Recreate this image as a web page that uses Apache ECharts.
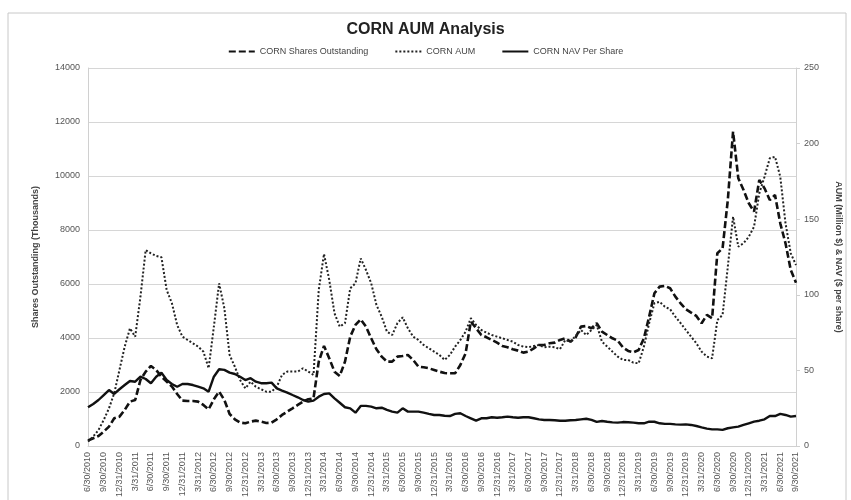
<!DOCTYPE html>
<html>
<head>
<meta charset="utf-8">
<script src="https://cdn.jsdelivr.net/npm/echarts@6/dist/echarts.min.js"></script>
<style>
  html, body { margin: 0; padding: 0; background: #fff; }
  #chart { width: 851px; height: 500px; }
</style>
</head>
<body>
<div id="chart"></div>
<script>
// month-end dates, Jun 2010 .. Sep 2021
const months = [
  '6/30/2010','7/31/2010','8/31/2010','9/30/2010','10/31/2010','11/30/2010','12/31/2010',
  '1/31/2011','2/28/2011','3/31/2011','4/30/2011','5/31/2011','6/30/2011','7/31/2011','8/31/2011','9/30/2011','10/31/2011','11/30/2011','12/31/2011',
  '1/31/2012','2/29/2012','3/31/2012','4/30/2012','5/31/2012','6/30/2012','7/31/2012','8/31/2012','9/30/2012','10/31/2012','11/30/2012','12/31/2012',
  '1/31/2013','2/28/2013','3/31/2013','4/30/2013','5/31/2013','6/30/2013','7/31/2013','8/31/2013','9/30/2013','10/31/2013','11/30/2013','12/31/2013',
  '1/31/2014','2/28/2014','3/31/2014','4/30/2014','5/31/2014','6/30/2014','7/31/2014','8/31/2014','9/30/2014','10/31/2014','11/30/2014','12/31/2014',
  '1/31/2015','2/28/2015','3/31/2015','4/30/2015','5/31/2015','6/30/2015','7/31/2015','8/31/2015','9/30/2015','10/31/2015','11/30/2015','12/31/2015',
  '1/31/2016','2/29/2016','3/31/2016','4/30/2016','5/31/2016','6/30/2016','7/31/2016','8/31/2016','9/30/2016','10/31/2016','11/30/2016','12/31/2016',
  '1/31/2017','2/28/2017','3/31/2017','4/30/2017','5/31/2017','6/30/2017','7/31/2017','8/31/2017','9/30/2017','10/31/2017','11/30/2017','12/31/2017',
  '1/31/2018','2/28/2018','3/31/2018','4/30/2018','5/31/2018','6/30/2018','7/31/2018','8/31/2018','9/30/2018','10/31/2018','11/30/2018','12/31/2018',
  '1/31/2019','2/28/2019','3/31/2019','4/30/2019','5/31/2019','6/30/2019','7/31/2019','8/31/2019','9/30/2019','10/31/2019','11/30/2019','12/31/2019',
  '1/31/2020','2/29/2020','3/31/2020','4/30/2020','5/31/2020','6/30/2020','7/31/2020','8/31/2020','9/30/2020','10/31/2020','11/30/2020','12/31/2020',
  '1/31/2021','2/28/2021','3/31/2021','4/30/2021','5/31/2021','6/30/2021','7/31/2021','8/31/2021','9/30/2021'
];

// shares outstanding (thousands), left axis
const sharesOutstanding = [
  200, 285, 370, 530, 716, 1025, 1086, 1333, 1642, 1704,
  2444, 2753, 2963, 2815, 2568, 2383, 2198, 1926, 1679, 1667,
  1667, 1642, 1519, 1358, 1728, 2012, 1704, 1185, 988, 864,
  840, 901, 938, 901, 850, 864, 988, 1148, 1272, 1395,
  1519, 1642, 1728, 1766, 3123, 3704, 3247, 2753, 2593, 3123,
  4049, 4481, 4692, 4420, 3988, 3580, 3309, 3123, 3123, 3309,
  3333, 3370, 3185, 2938, 2914, 2877, 2815, 2753, 2700, 2691,
  2691, 3000, 3432, 4605, 4358, 4111, 4025, 3926, 3827, 3704,
  3655, 3580, 3531, 3457, 3494, 3617, 3741, 3741, 3802, 3827,
  3926, 3988, 3864, 4025, 4420, 4444, 4358, 4543, 4235, 4111,
  3988, 3901, 3650, 3520, 3469, 3556, 3988, 4790, 5654, 5901,
  5926, 5840, 5531, 5284, 5062, 4938, 4815, 4543, 4852, 4728,
  7136, 7321, 9111, 11642, 9914, 9481, 8988, 8679, 9852, 9543,
  9111, 9296, 8247, 7506, 6519, 6049
];

// AUM (million $), right axis
const aum = [
  2.9, 6.2, 10.6, 17.2, 24.9, 34.8, 50.3, 65.7, 77.8, 72.3,
  98.7, 129.6, 127.4, 125.7, 124.8, 103.2, 94.4, 80, 72.3, 70.1,
  67.9, 65.7, 62.4, 51.4, 78.9, 107.6, 91.1, 60.2, 52.4, 43.6,
  38.1, 42.5, 39.2, 37.5, 35.9, 35.9, 39.2, 47, 49.2, 49.2,
  49.2, 51.4, 49.2, 47, 103.2, 127, 109.8, 87.8, 78.9, 81.2,
  104.3, 107.6, 124.1, 116.4, 107.6, 93.3, 85.5, 75.6, 73.4, 81.2,
  85.1, 77.8, 72.3, 70.1, 66.8, 64.6, 62.4, 60.2, 56.9, 60.2,
  65.7, 70.1, 75.6, 84.5, 80, 76.7, 74.9, 73.4, 72.3, 71.2,
  70.1, 69, 66.8, 65.7, 65.3, 66.1, 66.8, 65.3, 65.7, 65.3,
  64, 70.1, 69, 72.8, 76.7, 73.4, 76.7, 80, 69, 65.7,
  62.4, 59.1, 56.9, 56.9, 55.1, 54.7, 65.7, 81.2, 94.4, 95.4,
  92.1, 90.4, 85.5, 81.2, 76.7, 72.3, 67.9, 62.4, 59.1, 58,
  83.3, 86.6, 118.6, 151.7, 131.8, 134.1, 138.4, 145, 167.1, 178.1,
  190.3, 191.3, 178.1, 147.3, 127.4, 119.7
];

// NAV ($ per share), right axis
const navPerShare = [
  25.6, 27.8, 30.4, 33.7, 37, 34.4, 37.5, 40.3, 43, 42.5,
  45.8, 44.3, 41.5, 45.8, 48.5, 43.6, 41, 39.2, 41, 41,
  40.3, 39.2, 38.1, 35.9, 45.8, 50.7, 50.3, 48.5, 47.6, 45.8,
  43.6, 44.8, 42.5, 41.5, 41.5, 41.9, 38.1, 36.6, 35.3, 33.7,
  32.2, 30.4, 29.3, 30, 32.6, 34.4, 34.8, 31.5, 28.6, 25.6,
  24.9, 22, 26.5, 26.5, 26, 24.9, 25.3, 23.8, 22.7, 22,
  24.9, 22.7, 22.7, 22.7, 22, 21.2, 20.5, 20.5, 20, 19.8,
  21.2, 21.6, 19.8, 18.3, 16.7, 18.3, 18.3, 19, 18.7, 19,
  19.4, 19, 18.7, 19, 19, 18.3, 17.6, 17.2, 17.2, 17,
  16.7, 16.7, 17, 17.2, 17.6, 18, 17.2, 15.9, 16.5, 16,
  15.6, 15.4, 15.8, 15.7, 15.4, 15, 15, 16.1, 16, 15,
  14.6, 14.6, 14.3, 14.1, 14.3, 13.9, 13.2, 12.3, 11.5, 11,
  11, 10.6, 11.7, 12.3, 12.8, 13.9, 15, 16.1, 16.7, 17.6,
  19.8, 19.8, 21.2, 20.5, 19.4, 19.8
];

const seriesNames = ['CORN Shares Outstanding', 'CORN AUM', 'CORN NAV Per Share'];

const font = '"Liberation Sans Narrow", "Liberation Sans", sans-serif';
const ink = '#111';

const chart = echarts.init(document.getElementById('chart'));
chart.setOption({
  animation: false,
  backgroundColor: '#fff',
  textStyle: { fontFamily: font },
  title: {
    text: 'CORN AUM Analysis',
    left: 'center',
    top: 17,
    textStyle: { fontSize: 16, fontWeight: 'bold', color: '#222', fontFamily: font }
  },
  legend: {
    data: seriesNames,
    top: 42,
    left: 'center',
    itemWidth: 26,
    itemHeight: 8,
    itemGap: 26,
    itemStyle: { opacity: 0 },
    textStyle: { fontSize: 9, color: '#444', fontFamily: font }
  },
  graphic: [{
    type: 'rect',
    shape: { x: 8, y: 13, width: 838, height: 500 },
    style: { fill: 'none', stroke: '#c8c8c8', lineWidth: 1 },
    silent: true
  }],
  grid: { left: 88, right: 53, top: 68, bottom: 54 },
  xAxis: {
    type: 'category',
    data: months,
    boundaryGap: false,
    axisLine: { lineStyle: { color: '#d0d0d0' } },
    axisTick: { show: false },
    axisLabel: {
      interval: 2,
      rotate: 90,
      fontSize: 9,
      color: '#555',
      margin: 6,
      fontFamily: font
    }
  },
  yAxis: [{
    type: 'value',
    min: 0,
    max: 14000,
    interval: 2000,
    name: 'Shares Outstanding (Thousands)',
    nameLocation: 'middle',
    nameGap: 48,
    nameTextStyle: { fontSize: 9, fontWeight: 'bold', color: '#444', fontFamily: font },
    axisLine: { show: true, lineStyle: { color: '#d0d0d0' } },
    axisTick: { show: false },
    axisLabel: { fontSize: 9, color: '#555', margin: 8, fontFamily: font, formatter: v => String(v) },
    splitLine: { lineStyle: { color: '#d6d6d6', width: 1 } }
  }, {
    type: 'value',
    min: 0,
    max: 250,
    interval: 50,
    name: 'AUM (Million $) & NAV ($ per share)',
    nameLocation: 'middle',
    nameGap: 38,
    nameRotate: -90,
    nameTextStyle: { fontSize: 9, fontWeight: 'bold', color: '#444', fontFamily: font },
    axisLine: { show: true, lineStyle: { color: '#d0d0d0' } },
    axisTick: { show: true, length: 4, lineStyle: { color: '#d0d0d0' } },
    axisLabel: { fontSize: 9, color: '#555', margin: 8, fontFamily: font },
    splitLine: { show: false }
  }],
  series: [{
    name: seriesNames[0],
    type: 'line',
    yAxisIndex: 0,
    data: sharesOutstanding,
    symbol: 'none',
    itemStyle: { color: ink },
    lineStyle: { color: ink, width: 2.6, type: [7, 3] }
  }, {
    name: seriesNames[1],
    type: 'line',
    yAxisIndex: 1,
    data: aum,
    symbol: 'none',
    itemStyle: { color: ink },
    lineStyle: { color: '#222', width: 2, type: [2, 2] }
  }, {
    name: seriesNames[2],
    type: 'line',
    yAxisIndex: 1,
    data: navPerShare,
    symbol: 'none',
    itemStyle: { color: ink },
    lineStyle: { color: ink, width: 2.4, type: 'solid' }
  }]
});
</script>
</body>
</html>
